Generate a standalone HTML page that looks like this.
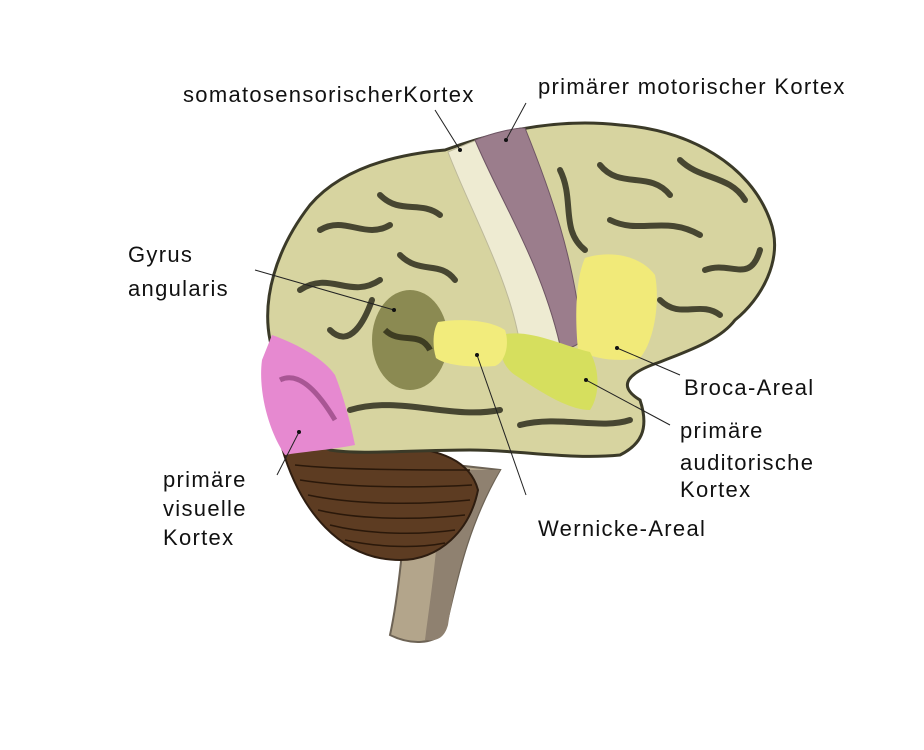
<!DOCTYPE html>
<html><head><meta charset="utf-8"><style>
html,body{margin:0;padding:0;background:#fff;}
svg{display:block}
text{font-family:"Liberation Sans",sans-serif;font-size:22px;letter-spacing:1.3px;fill:#111}
</style></head><body>
<svg width="924" height="750" viewBox="0 0 924 750">
<!-- stem -->
<path d="M410 460 C405 520 400 590 390 635 C410 645 435 645 445 630 C455 590 465 530 500 470 Z" fill="#b3a58b" stroke="#6d6355" stroke-width="2"/>
<path d="M440 470 C440 540 430 600 425 640 C440 642 445 635 448 625 C455 580 470 520 500 470 Z" fill="#8f8170"/>
<!-- cerebellum -->
<path d="M282 448 C300 510 340 560 400 560 C440 560 470 530 478 490 C470 460 440 450 400 446 Z" fill="#5d3c22" stroke="#2e1d10" stroke-width="2"/>
<g stroke="#2a180a" stroke-width="1.5" fill="none">
<path d="M295 465 C340 470 420 470 470 470"/><path d="M300 480 C350 488 420 488 472 485"/>
<path d="M308 495 C355 505 420 505 470 500"/><path d="M318 510 C360 520 420 520 465 515"/>
<path d="M330 525 C370 535 420 535 455 530"/><path d="M345 540 C380 548 420 548 445 543"/>
</g>
<!-- brain body -->
<path d="M270 340 C262 300 275 250 310 205 C340 170 390 155 445 150 C500 130 560 118 620 125 C690 130 750 165 770 220 C785 260 760 300 735 320 C720 340 690 350 660 362 C630 372 615 385 640 400 C650 430 640 445 620 455 C570 460 520 450 470 450 C410 450 360 455 330 450 C300 440 280 390 270 340 Z" fill="#d7d4a0" stroke="#3b3a28" stroke-width="3"/>
<!-- folds -->
<g stroke="#2f2e1e" stroke-width="6" fill="none" stroke-linecap="round" opacity="0.85">
<path d="M320 230 C345 215 365 240 390 225"/><path d="M300 290 C330 270 350 300 380 280"/>
<path d="M330 330 C350 350 365 320 372 300"/><path d="M380 195 C400 215 420 200 440 215"/>
<path d="M600 165 C620 190 650 170 670 195"/><path d="M610 220 C640 235 665 215 700 235"/>
<path d="M680 160 C700 180 730 175 745 200"/><path d="M705 270 C730 260 750 285 760 250"/>
<path d="M560 170 C575 200 560 230 585 250"/><path d="M350 410 C400 395 450 420 500 410"/>
<path d="M520 425 C560 415 600 430 630 420"/><path d="M400 255 C420 275 440 260 455 280"/>
<path d="M660 300 C680 320 700 300 720 315"/>
</g>
<!-- somatosensory -->
<path d="M448 152 C465 145 470 142 478 140 C500 200 540 260 560 345 C545 350 530 350 520 345 C510 280 470 210 448 152 Z" fill="#eeebd2" stroke="#bdb99a" stroke-width="1"/>
<!-- motor -->
<path d="M475 140 C495 132 515 128 525 128 C550 190 575 260 582 340 C575 348 565 350 560 345 C540 260 500 200 475 140 Z" fill="#9b7d8c" stroke="#6e5564" stroke-width="1"/>
<!-- broca -->
<path d="M585 258 C610 250 640 255 655 275 C660 300 655 340 640 358 C620 362 595 360 578 350 C575 320 575 280 585 258 Z" fill="#f1ea79"/>
<!-- gyrus angularis -->
<ellipse cx="410" cy="340" rx="38" ry="50" fill="#8b8a52"/>
<path d="M385 330 C400 345 420 330 430 350" stroke="#3e3d22" stroke-width="6" fill="none"/>
<!-- auditory -->
<path d="M500 335 C530 328 560 345 590 352 C600 370 600 395 590 410 C570 410 545 395 515 375 C500 365 498 345 500 335 Z" fill="#d6df5e"/>
<!-- wernicke -->
<path d="M438 322 C460 318 490 320 505 330 C510 345 505 362 495 366 C470 368 445 365 436 358 C432 345 433 330 438 322 Z" fill="#f2ec7c"/>
<!-- visual -->
<path d="M272 335 C300 345 325 360 335 375 C345 400 352 430 355 445 C330 450 300 452 285 455 C268 430 258 390 262 360 Z" fill="#e689d0"/>
<path d="M280 380 C300 370 320 395 335 420" stroke="#a85694" stroke-width="5" fill="none"/>
<!-- leader lines -->
<g stroke="#222" stroke-width="1" fill="none">
<line x1="435" y1="110" x2="460" y2="150"/><line x1="526" y1="103" x2="506" y2="140"/>
<line x1="255" y1="270" x2="394" y2="310"/><line x1="617" y1="348" x2="680" y2="375"/>
<line x1="586" y1="380" x2="670" y2="425"/><line x1="477" y1="355" x2="526" y2="495"/>
<line x1="299" y1="432" x2="277" y2="475"/>
</g>
<g fill="#111">
<circle cx="460" cy="150" r="2"/><circle cx="506" cy="140" r="2"/><circle cx="394" cy="310" r="2"/>
<circle cx="617" cy="348" r="2"/><circle cx="586" cy="380" r="2"/><circle cx="477" cy="355" r="2"/><circle cx="299" cy="432" r="2"/>
</g>
<text x="183" y="102">somatosensorischerKortex</text>
<text x="538" y="94">primärer motorischer Kortex</text>
<text x="128" y="262">Gyrus</text><text x="128" y="296">angularis</text>
<text x="684" y="395">Broca-Areal</text>
<text x="680" y="438">primäre</text><text x="680" y="470">auditorische</text><text x="680" y="497">Kortex</text>
<text x="163" y="487">primäre</text><text x="163" y="516">visuelle</text><text x="163" y="545">Kortex</text>
<text x="538" y="536">Wernicke-Areal</text>
</svg>
</body></html>
